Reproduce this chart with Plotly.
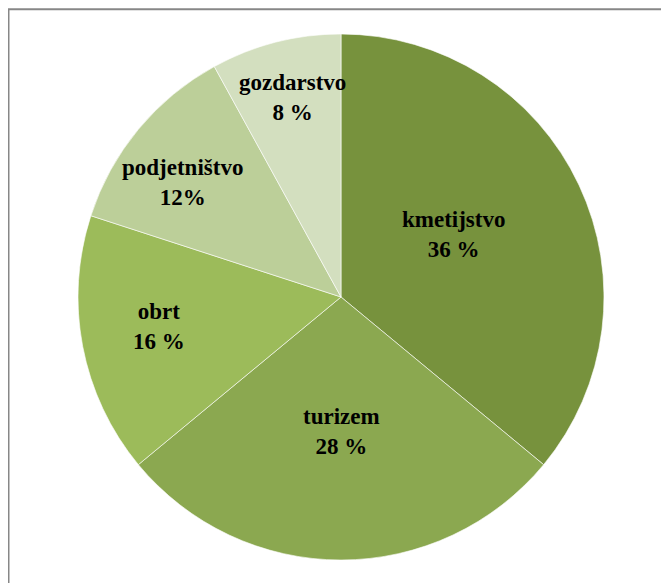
import math
import plotly.graph_objects as go

# ----------------------数据-------------------------------------------------
labels = ['kmetijstvo', 'turizem', 'obrt', 'podjetništvo', 'gozdarstvo']
values = [36, 28, 16, 12, 8]
pct_text = ['36 %', '28 %', '16 %', '12%', '8 %']
colors = ['#77923D', '#8BA850', '#9CBB5A', '#BCCF99', '#D3DFBF']

# 页面有 8px 的 body 边距, 图正好填满窗口剩下的部分
W, H = 669 - 8, 583 - 8
# 饼图中心和半径 (像素, 图内坐标)
cx, cy, rad = 333, 289, 263
# 标签位置: 半径比例和角度偏移 (度)
label_r = [0.49, 0.51, 0.70, 0.745, 0.78]
label_da = [-3.6, 0.0, 1.5, -3.7, 0.6]

fig = go.Figure(go.Pie(
    labels=labels,
    values=values,
    sort=False,
    direction='clockwise',
    rotation=0,
    marker=dict(colors=colors, line=dict(color='rgba(255,255,255,0.6)', width=1)),
    textinfo='none',
    domain=dict(x=[(cx - rad) / W, (cx + rad) / W],
                y=[1 - (cy + rad) / H, 1 - (cy - rad) / H]),
    hoverinfo='label+percent',
))

# 标签: 按扇区中间角度放置
total = sum(values)
start = 0.0
for lab, val, pct, rf, da in zip(labels, values, pct_text, label_r, label_da):
    mid = start + val / total * 360 / 2 + da
    start += val / total * 360
    a = math.radians(mid)
    px = cx + rf * rad * math.sin(a)
    py = cy - rf * rad * math.cos(a)
    fig.add_annotation(x=px / W, y=1 - py / H, xref='paper', yref='paper',
                       text=f'<b>{lab}</b><br><b>{pct}</b>', showarrow=False,
                       xanchor='center', yanchor='middle',
                       font=dict(family='Liberation Serif, Times New Roman, serif',
                                 size=23, color='#000000'))

# 图表外框 (只看得到左边和上边)
border = dict(color='#878787', width=2)
fig.add_shape(type='line', xref='paper', yref='paper',
              x0=0.5 / W, x1=0.5 / W, y0=-0.05, y1=1 - 1.2 / H, line=border)
fig.add_shape(type='line', xref='paper', yref='paper',
              x0=0, x1=1.1, y0=1 - 1.2 / H, y1=1 - 1.2 / H, line=border)

fig.update_layout(width=W, height=H,
                  margin=dict(l=0, r=0, t=0, b=0),
                  paper_bgcolor='white',
                  showlegend=False)

fig.write_html('out.html')
